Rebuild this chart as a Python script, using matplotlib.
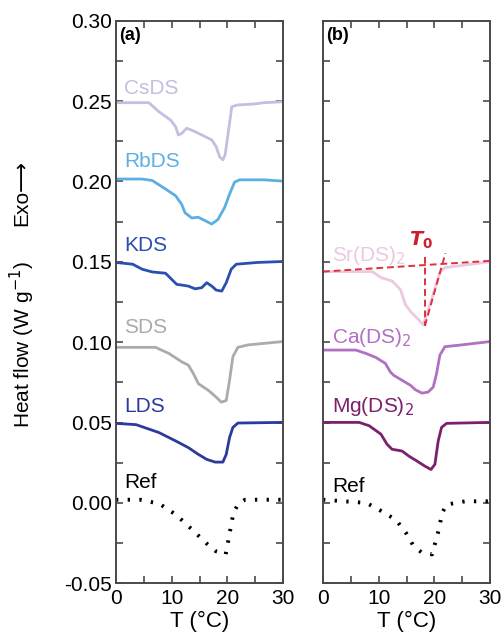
import matplotlib
matplotlib.use('Agg')
import matplotlib.pyplot as plt
from matplotlib.ticker import MultipleLocator

plt.rcParams['font.family'] = ['Liberation Sans', 'DejaVu Sans']

# ---- panel (a) data ----
cs_T = [0, 5.9, 7.7, 9.8, 10.7, 11.2, 11.8, 12.7, 14.2, 16.0, 17.2, 18.0, 18.6, 19.2, 19.6, 20.4, 20.8, 21.9, 24.9, 26.6, 30]
cs_y = [0.2490, 0.2490, 0.2434, 0.2382, 0.2341, 0.2289, 0.2299, 0.2331, 0.2310, 0.2279, 0.2258, 0.2216, 0.2154,
        0.2134, 0.2165, 0.2362, 0.2465, 0.2476, 0.2482, 0.2490, 0.2496]

rb_T = [0, 4.7, 6.5, 8.9, 10.7, 11.8, 12.4, 13.6, 14.8, 16.0, 17.2, 18.3, 19.5, 20.4, 21.3, 22.2, 26.6, 30]
rb_y = [0.2015, 0.2015, 0.2006, 0.1953, 0.1911, 0.1858, 0.1805, 0.1773, 0.1777, 0.1756, 0.1735, 0.1763, 0.1837,
        0.1921, 0.1996, 0.2010, 0.2010, 0.2002]

k_T = [0, 3.0, 4.7, 6.5, 8.9, 10.9, 13.0, 14.2, 15.4, 16.3, 17.2, 18.0, 19.0, 19.8, 20.7, 21.6, 25.4, 30]
k_y = [0.1496, 0.1485, 0.1454, 0.1437, 0.1429, 0.1360, 0.1349, 0.1332, 0.1339, 0.1370, 0.1349, 0.1324, 0.1318,
       0.1370, 0.1454, 0.1485, 0.1496, 0.1502]

s_T = [0, 7.1, 9.5, 11.8, 13.0, 13.9, 14.8, 16.6, 18.0, 18.9, 19.8, 20.4, 21.0, 21.9, 23.7, 30]
s_y = [0.0968, 0.0968, 0.0930, 0.0878, 0.0857, 0.0805, 0.0742, 0.0700, 0.0658, 0.0627, 0.0637, 0.0763, 0.0910,
       0.0968, 0.0983, 0.1004]

l_T = [0, 3.6, 7.7, 10.7, 13.0, 14.8, 16.3, 17.8, 19.2, 19.8, 20.4, 21.0, 21.9, 30]
l_y = [0.0495, 0.0487, 0.0438, 0.0386, 0.0344, 0.0302, 0.0271, 0.0254, 0.0254, 0.0302, 0.0407, 0.0470, 0.0497, 0.0501]

refa_T = [0, 4.3, 7.8, 10.8, 13.7, 16.2, 17.9, 19.7, 20.2, 21.1, 22.0, 23.2, 30]
refa_y = [0.002, 0.002, -0.0005, -0.0074, -0.0167, -0.025, -0.030, -0.032, -0.023, -0.006, -0.0005, 0.002, 0.002]

# ---- panel (b) data ----
sr_T = [0, 8.9, 10.4, 12.4, 13.9, 14.8, 15.7, 16.9, 18.0, 19.5, 21.0, 21.9, 30]
sr_y = [0.1439, 0.1439, 0.1402, 0.1381, 0.1328, 0.1234, 0.1192, 0.1150, 0.1108, 0.1265, 0.1433, 0.1464, 0.1500]

ca_T = [0, 5.9, 7.7, 9.5, 11.2, 12.1, 12.7, 14.2, 15.7, 16.6, 17.8, 18.9, 19.8, 20.4, 21.0, 21.9, 24.9, 30]
ca_y = [0.0951, 0.0951, 0.0930, 0.0905, 0.0868, 0.0815, 0.0794, 0.0763, 0.0732, 0.0704, 0.0683, 0.0690, 0.0721,
        0.0805, 0.0920, 0.0972, 0.0983, 0.1004]

mg_T = [0, 6.5, 8.3, 10.4, 11.5, 12.4, 14.2, 15.4, 16.9, 18.3, 19.4, 20.1, 20.7, 21.3, 22.2, 30]
mg_y = [0.0501, 0.0501, 0.0480, 0.0428, 0.0365, 0.0334, 0.0323, 0.0292, 0.0260, 0.0229, 0.0208, 0.0240, 0.0386,
        0.0470, 0.0495, 0.0501]

refb_T = [0, 7.8, 10.1, 13.1, 14.9, 16.3, 17.8, 19.6, 20.8, 21.4, 22.2, 25.5, 30]
refb_y = [0.002, 0.0, -0.0043, -0.0105, -0.0186, -0.027, -0.031, -0.032, -0.0167, -0.0063, -0.001, 0.001, 0.001]

# onset construction (T0)
base_T = [0, 30]
base_y = [0.1439, 0.1506]
t0_T = [18.3, 18.3]
t0_y = [0.1532, 0.1102]
tan_T = [18.3, 22.0]
tan_y = [0.1102, 0.1554]

panel_a = [
    (cs_T, cs_y, '#c6bde0', 'CsDS', 0.258),
    (rb_T, rb_y, '#5cafe3', 'RbDS', 0.2127),
    (k_T, k_y, '#2a4fb0', 'KDS', 0.160),
    (s_T, s_y, '#ababab', 'SDS', 0.109),
    (l_T, l_y, '#2b3a9c', 'LDS', 0.0603),
]
panel_b = [
    (sr_T, sr_y, '#ecc8e2', 'Sr(DS)$_2$', 0.1537),
    (ca_T, ca_y, '#b170c3', 'Ca(DS)$_2$', 0.1028),
    (mg_T, mg_y, '#7b1f6e', 'Mg(DS)$_2$', 0.060),
]

fig = plt.figure(figsize=(5.04, 6.35), dpi=100)
ax1 = fig.add_axes([116 / 504, 1 - 583.3 / 635, 167 / 504, (583.3 - 20.7) / 635])
ax2 = fig.add_axes([323 / 504, 1 - 583.3 / 635, 167 / 504, (583.3 - 20.7) / 635])

spine_col = '#4a4a4a'
for ax in (ax1, ax2):
    ax.set_xlim(0, 30)
    ax.set_ylim(-0.05, 0.30)
    ax.xaxis.set_major_locator(MultipleLocator(10))
    ax.xaxis.set_minor_locator(MultipleLocator(5))
    ax.yaxis.set_major_locator(MultipleLocator(0.05))
    ax.yaxis.set_minor_locator(MultipleLocator(0.025))
    ax.tick_params(which='both', direction='in', top=True, right=True,
                   color=spine_col, width=1.2, length=5, labelsize=15)
    ax.tick_params(axis='x', pad=4)
    ax.tick_params(axis='y', pad=3)
    for s in ax.spines.values():
        s.set_color(spine_col)
        s.set_linewidth(1.4)
    ax.set_xlabel('T (°C)', fontsize=16, labelpad=2)

ax1.set_yticklabels(['%.2f' % v for v in ax1.get_yticks()])
ax1.set_ylim(-0.05, 0.30)
ax2.tick_params(labelleft=False)

for T, y, c, name, ly in panel_a:
    ax1.plot(T, y, color=c, lw=2)
    ax1.text(1.5, ly, name, color=c, fontsize=15, va='center', ha='left')
ax1.plot(refa_T, refa_y, color='black', lw=2.8, linestyle=(0, (0.6, 2.4)))
ax1.text(1.5, 0.0125, 'Ref', color='black', fontsize=15, va='center', ha='left')
ax1.text(0.6, 0.291, '(a)', fontsize=13, fontweight='bold', va='center', ha='left')

for T, y, c, name, ly in panel_b:
    ax2.plot(T, y, color=c, lw=2)
    ax2.text(1.6, ly, name, color=c, fontsize=15, va='center', ha='left')
ax2.plot(refb_T, refb_y, color='black', lw=2.8, linestyle=(0, (0.6, 2.4)))
ax2.text(1.6, 0.0102, 'Ref', color='black', fontsize=15, va='center', ha='left')
ax2.text(0.6, 0.291, '(b)', fontsize=13, fontweight='bold', va='center', ha='left')

red = '#e0303c'
for T, y in ((base_T, base_y), (t0_T, t0_y), (tan_T, tan_y)):
    ax2.plot(T, y, color=red, lw=1.4, linestyle=(0, (3.5, 2)))
ax2.text(17.6, 0.1635, '$\\boldsymbol{T}_\\mathbf{0}$', color='#cc1f2e', fontsize=14,
         va='center', ha='center')

fig.text(22 / 504, 1 - 193 / 635, 'Exo⟶', rotation=90, fontsize=15, va='center', ha='center',
         family=['Liberation Sans', 'DejaVu Sans'])
fig.text(22 / 504, 1 - 345 / 635, 'Heat flow (W g$^{-1}$)', rotation=90, fontsize=15,
         va='center', ha='center')

fig.savefig('out.png', dpi=100)
